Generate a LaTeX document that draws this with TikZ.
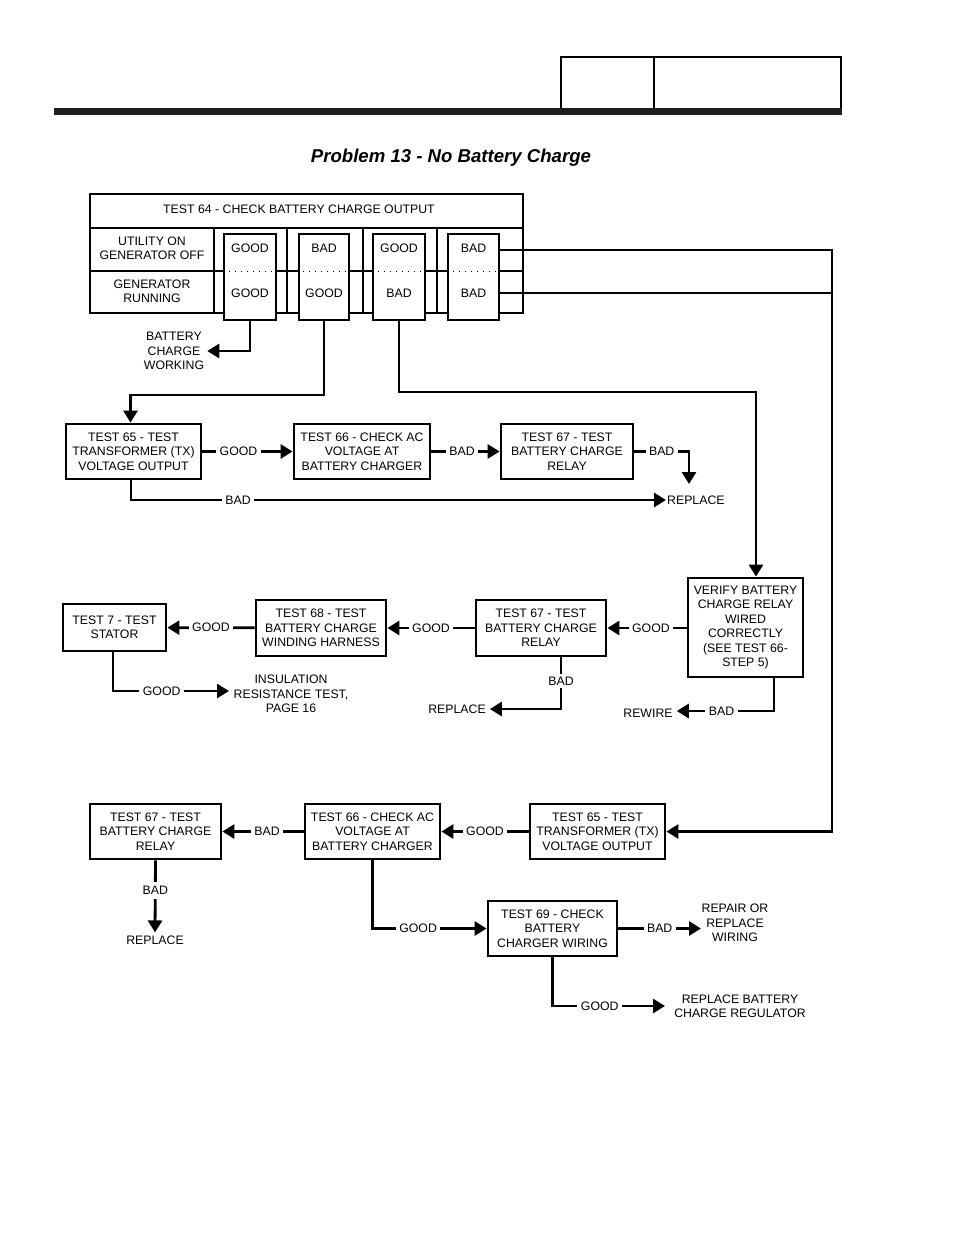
\documentclass[tikz,border=0pt]{standalone}
\usepackage{fontspec}
\setmainfont{Liberation Sans}
\usetikzlibrary{arrows.meta}
\newcommand\fsz{\fontsize{12.3}{14.4}\selectfont}
\tikzset{
 box/.style={draw, line width=2.8pt, align=center, inner sep=0pt, font=\fsz, fill=white},
 lbl/.style={fill=white, inner xsep=3.5pt, inner ysep=1pt, font=\fsz},
 txt/.style={align=center, font=\fsz, inner sep=1pt},
 ln/.style={line width=2.8pt},
 arr/.style={line width=2.8pt, -{Triangle[length=12pt,width=14pt]}},
 dots/.style={line width=1pt, dash pattern=on 1pt off 5pt},
}
\begin{document}
\begin{tikzpicture}[x=1pt,y=-1pt]
\useasboundingbox (0,0) rectangle (954,1235);
\fill[white] (0,0) rectangle (954,1235);
% page header
\fill[black!88] (54,108) rectangle (842,115);
\draw[line width=2pt] (561,108) -- (561,57) -- (841,57) -- (841,108);
\draw[line width=1.6pt] (654,57) -- (654,108);
\node[font=\fontsize{18.6}{21}\selectfont\bfseries\itshape] (title) at (451,158) {Problem 13 - No Battery Charge};
% test 64 table
\draw[ln] (90,194) rectangle (523,313);
\draw[ln] (90,228) -- (523,228);
\draw[ln] (90,271) -- (523,271);
\foreach \x in {214,287,363,437} \draw[ln] (\x,228) -- (\x,313);
\node[txt] (t64) at (299,209) {TEST 64 - CHECK BATTERY CHARGE OUTPUT};
\node[txt] (util) at (152,248) {UTILITY ON\\GENERATOR OFF};
\node[txt] (genr) at (152,291) {GENERATOR\\RUNNING};
\node[box, minimum width=52, minimum height=86] (b1) at (250,277) {};
\node[box, minimum width=50, minimum height=86] (b2) at (324,277) {};
\node[box, minimum width=52, minimum height=86] (b3) at (399,277) {};
\node[box, minimum width=51, minimum height=86] (b4) at (473.5,277) {};
\draw[dots] (229,271) -- (272,271);
\draw[dots] (303,271) -- (346,271);
\draw[dots] (378,271) -- (421,271);
\draw[dots] (453,271) -- (496,271);
\node[txt] (b1a) at (250,248) {GOOD};
\node[txt] (b1b) at (250,293) {GOOD};
\node[txt] (b2a) at (324,248) {BAD};
\node[txt] (b2b) at (324,293) {GOOD};
\node[txt] (b3a) at (399,248) {GOOD};
\node[txt] (b3b) at (399,293) {BAD};
\node[txt] (b4a) at (473.5,248) {BAD};
\node[txt] (b4b) at (473.5,293) {BAD};
% battery charge working
\node[txt] (bcw) at (174,351) {BATTERY\\CHARGE\\WORKING};
\draw[arr] (b1.south) |- ([xshift=2pt]bcw.east);
% row 2
\node[box, minimum width=135, minimum height=55] (t65a) at (133.5,451.5) {TEST 65 - TEST\\TRANSFORMER (TX)\\VOLTAGE OUTPUT};
\node[box, minimum width=136, minimum height=55] (t66a) at (362,451.5) {TEST 66 - CHECK AC\\VOLTAGE AT\\BATTERY CHARGER};
\node[box, minimum width=132, minimum height=55] (t67a) at (567,451.5) {TEST 67 - TEST\\BATTERY CHARGE\\RELAY};
\node[txt, anchor=west] (rep1) at (666,500) {REPLACE};
\coordinate (rep1top) at (689,484);
\draw[arr] (b2.south) -- (324,395) -| ([xshift=-3pt]t65a.north);
\draw[arr] (t65a) -- node[lbl, pos=0.4] {GOOD} (t66a);
\draw[arr] (t66a) -- node[lbl, pos=0.45] {BAD} (t67a);
\draw[arr] (t67a.east) -- node[lbl, pos=0.5] {BAD} (rep1top |- t67a.east) -- (rep1top);
\draw[arr] ([xshift=-2.5pt]t65a.south) |- node[lbl, pos=0.6] {BAD} (rep1.west);
% verify
\node[box, minimum width=115, minimum height=99] (ver) at (745.5,627.5) {VERIFY BATTERY\\CHARGE RELAY\\WIRED\\CORRECTLY\\(SEE TEST 66-\\STEP 5)};
\draw[arr] (b3.south) -- (399,392) -| ([xshift=10.5pt]ver.north);
% row 3
\node[box, minimum width=103, minimum height=47] (t7) at (114.5,627.5) {TEST 7 - TEST\\STATOR};
\node[box, minimum width=130, minimum height=56] (t68) at (321,628) {TEST 68 - TEST\\BATTERY CHARGE\\WINDING HARNESS};
\node[box, minimum width=130, minimum height=56] (t67b) at (541,628) {TEST 67 - TEST\\BATTERY CHARGE\\RELAY};
\draw[arr] (ver.west |- t67b.east) -- node[lbl, pos=0.45] {GOOD} (t67b.east);
\draw[arr] (t67b) -- node[lbl, pos=0.5] {GOOD} (t68);
\draw[arr] (t68) -- node[lbl, pos=0.5] {GOOD} (t7);
\node[txt] (ins) at (291,694) {INSULATION\\RESISTANCE TEST,\\PAGE 16};
\coordinate (insin) at (229,691);
\draw[arr] ([xshift=-1.5pt]t7.south) |- node[lbl, pos=0.71] {GOOD} (insin);
\node[txt] (rep2) at (457,709) {REPLACE};
\draw[arr] ([xshift=20pt]t67b.south) |- node[lbl, inner ysep=3pt, pos=0.23] {BAD} ([xshift=3pt]rep2.east);
\node[txt] (rew) at (648,713) {REWIRE};
\draw[arr] ([xshift=28.5pt]ver.south) |- node[lbl, pos=0.77] {BAD} ([xshift=3pt]rew.east |- 0,711);
% row 4
\node[box, minimum width=131, minimum height=55] (t67c) at (155.5,831.5) {TEST 67 - TEST\\BATTERY CHARGE\\RELAY};
\node[box, minimum width=135, minimum height=55] (t66c) at (372.5,831.5) {TEST 66 - CHECK AC\\VOLTAGE AT\\BATTERY CHARGER};
\node[box, minimum width=135, minimum height=55] (t65c) at (597.5,831.5) {TEST 65 - TEST\\TRANSFORMER (TX)\\VOLTAGE OUTPUT};
\draw[ln] ([yshift=-16pt]b4.east) -- (832,293);
\draw[arr] ([yshift=27pt]b4.east) -- (832,250) |- (t65c.east);
\draw[arr] (t65c) -- node[lbl, pos=0.5] {GOOD} (t66c);
\draw[arr] (t66c) -- node[lbl, pos=0.45] {BAD} (t67c);
\node[txt] (rep3) at (155,940) {REPLACE};
\draw[arr] (t67c.south) -- node[lbl, inner ysep=4pt, pos=0.42] {BAD} ([yshift=2pt]rep3.north);
\node[box, minimum width=129, minimum height=55] (t69) at (552.5,928.5) {TEST 69 - CHECK\\BATTERY\\CHARGER WIRING};
\draw[arr] (t66c.south) |- node[lbl, pos=0.7] {GOOD} (t69.west);
\node[txt] (rpw) at (735,923) {REPAIR OR\\REPLACE\\WIRING};
\draw[arr] (t69.east) -- node[lbl, pos=0.5] {BAD} (701,928.5);
\node[txt] (reg) at (740,1006) {REPLACE BATTERY\\CHARGE REGULATOR};
\draw[arr] (t69.south) |- node[lbl, pos=0.71] {GOOD} (665,1006);
\end{tikzpicture}
\end{document}
